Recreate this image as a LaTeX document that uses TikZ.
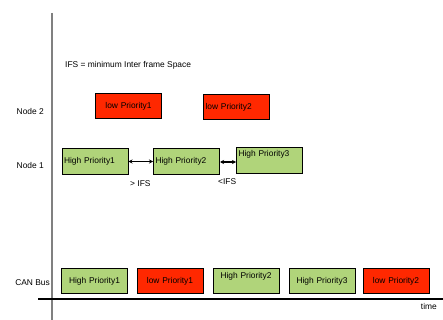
\documentclass[tikz,border=0pt]{standalone}
\usepackage{fontspec}
\setmainfont{Liberation Sans}
\usetikzlibrary{arrows.meta}
\definecolor{hp}{RGB}{176,212,122}
\definecolor{lp}{RGB}{255,40,0}
\tikzset{
  frame/.style={draw=black, line width=1pt, minimum width=66pt, minimum height=25pt, inner sep=1.5pt, font=\fontsize{8.4}{9.5}\selectfont},
  hpbox/.style={frame, fill=hp},
  lpbox/.style={frame, fill=lp},
  lft/.style={text width=62pt, align=left},
  ctr/.style={text width=62pt, align=center},
  lbl/.style={font=\fontsize{8.4}{9.5}\selectfont, inner sep=0pt},
  gap/.style={{Stealth[length=4pt,width=4pt]}-{Stealth[length=4pt,width=4pt]}, line width=1.2pt}
}
\begin{document}
\begin{tikzpicture}[x=1pt,y=-1pt]
\useasboundingbox (0,0) rectangle (443,320);
\fill[white] (0,0) rectangle (443,320);
% axes
\coordinate (vtop) at (52,13);
\coordinate (vbot) at (52,320);
\coordinate (hl) at (38,299);
\coordinate (hr) at (443,299);
\draw[gray, line width=1.3pt] (vtop) -- (vbot);
\draw[black, line width=1.6pt] (hl) -- (hr);
% labels
\node[lbl, anchor=west] (ifs) at (65,65) {IFS = minimum Inter frame Space};
\node[lbl, anchor=east] (n2) at (44,111) {Node 2};
\node[lbl, anchor=east] (n1) at (44,165) {Node 1};
\node[lbl, anchor=east] (cb) at (50,283) {CAN Bus};
\node[lbl, anchor=east] (tm) at (437,306) {time};
% Node 2
\node[lpbox, ctr] (n2a) at (128.5,106) {low Priority1};
\node[lpbox, lft] (n2b) at (236.5,107) {low Priority2};
% Node 1
\node[hpbox, lft] (n1a) at (95,161.5) {High Priority1};
\node[hpbox, lft] (n1b) at (186.5,161.5) {High Priority2};
\node[hpbox, lft] (n1c) at (269.5,160.5) {High Priority3\\[4pt]\mbox{}};
\draw[gap] (n1a.east) -- (n1b.west);
\draw[gap] ([yshift=-0.5pt]n1b.east) -- ([yshift=-1.5pt]n1c.west);
\node[lbl, anchor=west] (g1) at (130,184) {> IFS};
\node[lbl, anchor=west] (g2) at (218,182) {<IFS};
% CAN bus
\node[hpbox, ctr] (c1) at (94.5,281) {High Priority1};
\node[lpbox, ctr] (c2) at (170,281) {low Priority1};
\node[hpbox, ctr] (c3) at (246,281) {High Priority2\\[2pt]\mbox{}};
\node[hpbox, ctr] (c4) at (322,281) {High Priority3};
\node[lpbox, ctr] (c5) at (396,281) {low Priority2};
\end{tikzpicture}
\end{document}
